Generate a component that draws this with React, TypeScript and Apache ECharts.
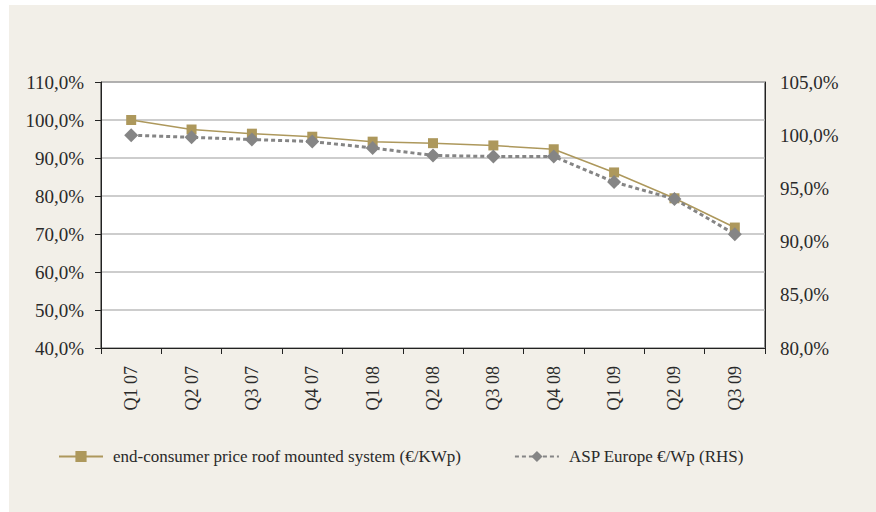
import React, { useEffect, useRef } from "react";
import * as echarts from "echarts";

const categories = ["Q1 07", "Q2 07", "Q3 07", "Q4 07", "Q1 08", "Q2 08", "Q3 08", "Q4 08", "Q1 09", "Q2 09", "Q3 09"];
const endConsumerPrice = [100.0, 97.5, 96.4, 95.6, 94.3, 93.9, 93.3, 92.3, 86.2, 79.4, 71.7];
const aspEurope = [100.0, 99.8, 99.6, 99.4, 98.8, 98.1, 98.0, 98.0, 95.6, 94.0, 90.7];
const seriesNames = ["end-consumer price roof mounted system (€/KWp)", "ASP Europe €/Wp (RHS)"];

const FONT = "'Liberation Serif', 'DejaVu Serif', serif";
const fmt = (v: number) => v.toFixed(1).replace(".", ",") + "%";

export default function App() {
  const ref = useRef<HTMLDivElement>(null);
  useEffect(() => {
    document.body.style.margin = "0";
    const chart = echarts.init(ref.current!, undefined, { renderer: "svg" });
    chart.setOption({
      animation: false,
      textStyle: { fontFamily: FONT },
      grid: {
        left: 101,
        top: 82,
        right: 111,
        bottom: 164,
        show: true,
        backgroundColor: "#ffffff",
        borderColor: "#222222",
        borderWidth: 1,
      },
      legend: {
        left: 58,
        top: 448,
        padding: 0,
        itemWidth: 44,
        itemHeight: 14,
        itemGap: 53,
        textStyle: { fontFamily: FONT, fontSize: 17, color: "#2a2a2a", padding: [0, 0, 0, 5] },
        data: seriesNames,
      },
      xAxis: {
        type: "category",
        data: categories,
        boundaryGap: true,
        axisLine: { lineStyle: { color: "#222222", width: 1 } },
        axisTick: { show: true, length: 6, lineStyle: { color: "#222222" } },
        axisLabel: {
          rotate: 90,
          margin: 18,
          fontFamily: FONT,
          fontSize: 18,
          color: "#2a2a2a",
          interval: 0,
        },
      },
      yAxis: [
        {
          type: "value",
          min: 40,
          max: 110,
          interval: 10,
          position: "left",
          axisLine: { show: true, lineStyle: { color: "#222222" } },
          axisTick: { show: true, length: 6, lineStyle: { color: "#222222" } },
          axisLabel: { formatter: fmt, margin: 17, fontFamily: FONT, fontSize: 19, color: "#2a2a2a" },
          splitLine: { show: true, lineStyle: { color: "#bdbdbd", width: 1.5 } },
        },
        {
          type: "value",
          min: 80,
          max: 105,
          interval: 5,
          position: "right",
          axisLine: { show: true, lineStyle: { color: "#222222" } },
          axisTick: { show: false },
          axisLabel: { formatter: fmt, margin: 15, fontFamily: FONT, fontSize: 19, color: "#2a2a2a" },
          splitLine: { show: false },
        },
      ],
      series: [
        {
          name: seriesNames[0],
          type: "line",
          yAxisIndex: 0,
          data: endConsumerPrice,
          symbol: "rect",
          symbolSize: 10,
          itemStyle: { color: "#ad985c" },
          lineStyle: { color: "#ad985c", width: 1.5 },
          z: 3,
        },
        {
          name: seriesNames[1],
          type: "line",
          yAxisIndex: 1,
          data: aspEurope,
          symbol: "diamond",
          symbolSize: 14,
          itemStyle: { color: "#858585" },
          lineStyle: { color: "#858585", width: 3, type: [4, 3] },
          z: 4,
        },
      ],
    });
    return () => chart.dispose();
  }, []);
  return (
    <div style={{ position: "relative", width: 876, height: 512, background: "#ffffff" }}>
      <div style={{ position: "absolute", left: 9, top: 5, width: 867, height: 507, background: "#f2efe8" }} />
      <div ref={ref} style={{ position: "absolute", left: 0, top: 0, width: 876, height: 512 }} />
    </div>
  );
}
